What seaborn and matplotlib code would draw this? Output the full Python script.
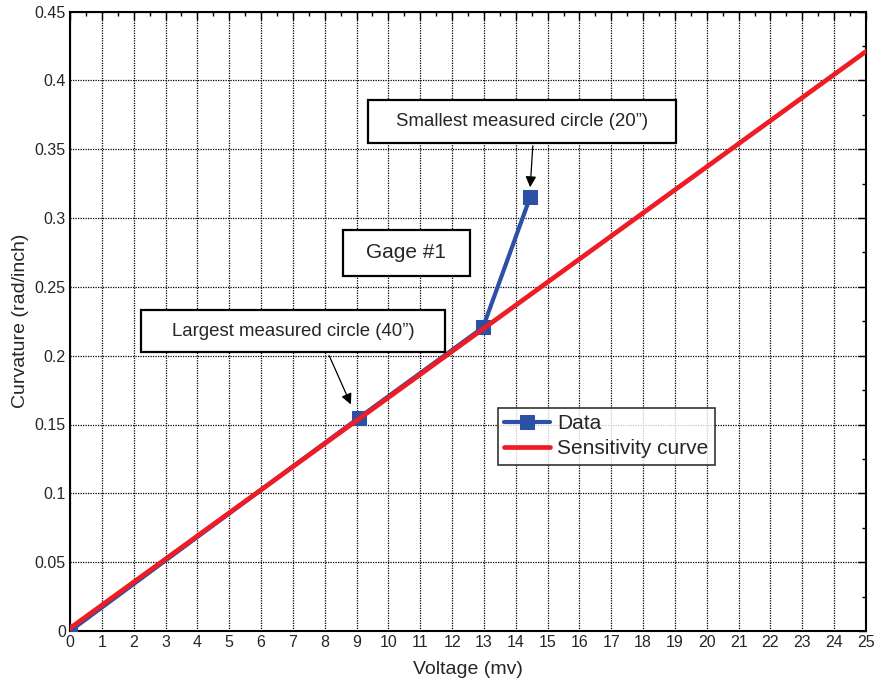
import matplotlib
matplotlib.use("Agg")
import matplotlib.pyplot as plt
from matplotlib.patches import Rectangle
from matplotlib.ticker import MultipleLocator, FuncFormatter
import seaborn as sns
import pandas as pd

# Measured gage output vs curvature
voltage_mv = [0.0, 9.08, 12.97, 14.45]
curvature = [0.0, 0.155, 0.2205, 0.315]

# Linear sensitivity fit
sens_voltage = [0.0, 25.0]
sens_curvature = [0.002, 0.421]

x_ticks = list(range(0, 26))
y_ticks = [0, 0.05, 0.1, 0.15, 0.2, 0.25, 0.3, 0.35, 0.4, 0.45]

sns.set_style("white")
plt.rcParams["font.family"] = ["Liberation Sans", "DejaVu Sans"]

fig = plt.figure(figsize=(8.76, 6.92), dpi=100)
ax = fig.add_axes([70 / 876, 1 - 631 / 692, 796 / 876, 619.5 / 692])

blue = "#2B50A5"
red = "#EE1C25"

data_df = pd.DataFrame({"v": voltage_mv, "c": curvature})
sens_df = pd.DataFrame({"v": sens_voltage, "c": sens_curvature})

sns.lineplot(data=data_df, x="v", y="c", ax=ax, color=blue, linewidth=3.0,
             marker="s", markersize=10, markeredgecolor=blue,
             markerfacecolor=blue, label="Data", zorder=3)
sns.lineplot(data=sens_df, x="v", y="c", ax=ax, color=red, linewidth=3.4,
             label="Sensitivity curve", zorder=4)

ax.set_xlim(0, 25)
ax.set_ylim(0, 0.45)
ax.set_xticks(x_ticks)
ax.set_yticks(y_ticks)
ax.xaxis.set_minor_locator(MultipleLocator(0.5))
ax.yaxis.set_minor_locator(MultipleLocator(0.025))
ax.yaxis.set_major_formatter(FuncFormatter(lambda v, p: f"{v:g}"))
ax.xaxis.set_major_formatter(FuncFormatter(lambda v, p: f"{v:g}"))

ax.grid(True, which="major", color="black", linestyle=(0, (1, 1)), linewidth=0.9)
ax.set_axisbelow(True)
ax.tick_params(which="both", direction="in", top=True, right=True,
               labelsize=11.5, color="black")
ax.tick_params(which="major", length=6, width=1, pad=3)
ax.tick_params(which="minor", length=3, width=1)
for s in ax.spines.values():
    s.set_visible(True)
    s.set_color("black")
    s.set_linewidth(1.5)

ax.set_xlabel("Voltage (mv)", fontsize=14, labelpad=8)
ax.set_ylabel("Curvature (rad/inch)", fontsize=14, labelpad=4)


def px_to_data(px, py):
    return (px - 70) / 796 * 25, (631 - py) / 619.5 * 0.45


def boxed_text(x0p, y0p, x1p, y1p, text, size):
    xa, ya = px_to_data(x0p, y1p)
    xb, yb = px_to_data(x1p, y0p)
    ax.add_patch(Rectangle((xa, ya), xb - xa, yb - ya, facecolor="white",
                           edgecolor="black", linewidth=1.6, zorder=6))
    ax.text((xa + xb) / 2, (ya + yb) / 2, text, ha="center", va="center",
            fontsize=size, zorder=7)


boxed_text(368, 100, 676, 143, "Smallest measured circle (20\u201d)", 13.4)
boxed_text(343, 230, 470, 276, "Gage #1", 15)
boxed_text(141, 310, 445, 352, "Largest measured circle (40\u201d)", 13.4)


def arrow(p0, p1):
    ax.annotate("", xy=px_to_data(*p1), xytext=px_to_data(*p0),
                arrowprops=dict(arrowstyle="-|>", color="black", lw=0.9,
                                mutation_scale=16), zorder=8)


arrow((533, 143), (530, 190))
arrow((328, 353), (352, 407))

leg = ax.legend(loc="upper left",
                bbox_to_anchor=((498 - 70) / 796, (631 - 408) / 619.5),
                borderaxespad=0, fontsize=15, frameon=True, fancybox=False,
                handlelength=2.2, handletextpad=0.35, borderpad=0.3,
                labelspacing=0.3)
leg.get_frame().set_edgecolor("black")
leg.get_frame().set_linewidth(1.2)
leg.set_zorder(9)

fig.savefig("out.png", dpi=100)
